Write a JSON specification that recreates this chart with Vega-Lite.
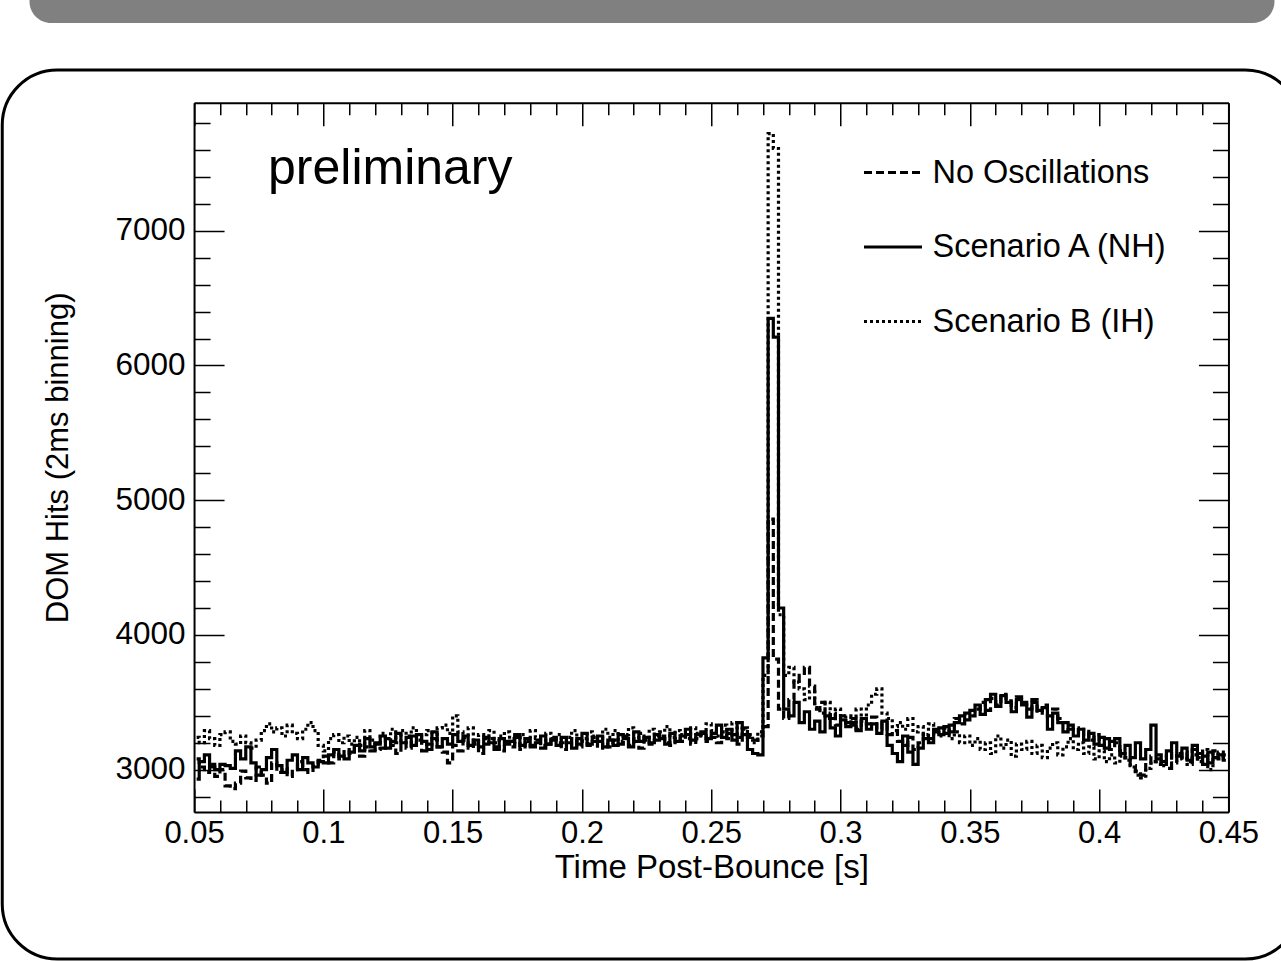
{
  "$schema": "https://vega.github.io/schema/vega-lite/v6.json",
  "padding": {"left": 0, "top": -20, "right": -20, "bottom": 1},
  "background": "white",
  "config": {"font": "Liberation Sans", "axis": {"grid": false}},
  "datasets": {
    "hits": [
      {"t":0.051,"n":3080,"a":2930,"b":3240},
      {"t":0.053,"n":3020,"a":3060,"b":3200},
      {"t":0.055,"n":2980,"a":3110,"b":3290},
      {"t":0.057,"n":3040,"a":3020,"b":3230},
      {"t":0.059,"n":2950,"a":3000,"b":3180},
      {"t":0.061,"n":3000,"a":3040,"b":3260},
      {"t":0.063,"n":2880,"a":3030,"b":3280},
      {"t":0.065,"n":2860,"a":3010,"b":3210},
      {"t":0.067,"n":2900,"a":3140,"b":3190},
      {"t":0.069,"n":2990,"a":3080,"b":3250},
      {"t":0.071,"n":2940,"a":3170,"b":3200},
      {"t":0.073,"n":2920,"a":3050,"b":3160},
      {"t":0.075,"n":3020,"a":2960,"b":3220},
      {"t":0.077,"n":2960,"a":3000,"b":3290},
      {"t":0.079,"n":2900,"a":3090,"b":3340},
      {"t":0.081,"n":3050,"a":3150,"b":3280},
      {"t":0.083,"n":2980,"a":3030,"b":3310},
      {"t":0.085,"n":3010,"a":2980,"b":3250},
      {"t":0.087,"n":2950,"a":3070,"b":3330},
      {"t":0.089,"n":3000,"a":3110,"b":3270},
      {"t":0.091,"n":3060,"a":3000,"b":3230},
      {"t":0.093,"n":3000,"a":3090,"b":3300},
      {"t":0.095,"n":2980,"a":3050,"b":3350},
      {"t":0.097,"n":3040,"a":3020,"b":3290},
      {"t":0.099,"n":3070,"a":3060,"b":3180},
      {"t":0.101,"n":3100,"a":3050,"b":3140},
      {"t":0.103,"n":3050,"a":3110,"b":3230},
      {"t":0.105,"n":3130,"a":3150,"b":3260},
      {"t":0.107,"n":3080,"a":3100,"b":3200},
      {"t":0.109,"n":3150,"a":3080,"b":3250},
      {"t":0.111,"n":3120,"a":3130,"b":3190},
      {"t":0.113,"n":3190,"a":3180,"b":3240},
      {"t":0.115,"n":3100,"a":3140,"b":3180},
      {"t":0.117,"n":3170,"a":3230,"b":3290},
      {"t":0.119,"n":3140,"a":3170,"b":3220},
      {"t":0.121,"n":3200,"a":3190,"b":3150},
      {"t":0.123,"n":3160,"a":3250,"b":3270},
      {"t":0.125,"n":3230,"a":3160,"b":3230},
      {"t":0.127,"n":3180,"a":3210,"b":3300},
      {"t":0.129,"n":3120,"a":3270,"b":3200},
      {"t":0.131,"n":3200,"a":3200,"b":3290},
      {"t":0.133,"n":3160,"a":3240,"b":3250},
      {"t":0.135,"n":3250,"a":3180,"b":3310},
      {"t":0.137,"n":3220,"a":3260,"b":3200},
      {"t":0.139,"n":3140,"a":3210,"b":3260},
      {"t":0.141,"n":3190,"a":3150,"b":3290},
      {"t":0.143,"n":3230,"a":3280,"b":3220},
      {"t":0.145,"n":3170,"a":3170,"b":3310},
      {"t":0.147,"n":3130,"a":3230,"b":3330},
      {"t":0.149,"n":3050,"a":3190,"b":3270},
      {"t":0.151,"n":3180,"a":3260,"b":3400},
      {"t":0.153,"n":3140,"a":3210,"b":3280},
      {"t":0.155,"n":3220,"a":3250,"b":3240},
      {"t":0.157,"n":3160,"a":3180,"b":3310},
      {"t":0.159,"n":3200,"a":3220,"b":3190},
      {"t":0.161,"n":3120,"a":3170,"b":3260},
      {"t":0.163,"n":3190,"a":3240,"b":3230},
      {"t":0.165,"n":3230,"a":3200,"b":3290},
      {"t":0.167,"n":3170,"a":3150,"b":3200},
      {"t":0.169,"n":3140,"a":3230,"b":3250},
      {"t":0.171,"n":3210,"a":3190,"b":3280},
      {"t":0.173,"n":3170,"a":3210,"b":3230},
      {"t":0.175,"n":3240,"a":3260,"b":3190},
      {"t":0.177,"n":3150,"a":3180,"b":3260},
      {"t":0.179,"n":3200,"a":3230,"b":3210},
      {"t":0.181,"n":3180,"a":3170,"b":3290},
      {"t":0.183,"n":3220,"a":3200,"b":3240},
      {"t":0.185,"n":3160,"a":3250,"b":3180},
      {"t":0.187,"n":3190,"a":3190,"b":3270},
      {"t":0.189,"n":3240,"a":3220,"b":3230},
      {"t":0.191,"n":3200,"a":3180,"b":3260},
      {"t":0.193,"n":3150,"a":3240,"b":3200},
      {"t":0.195,"n":3190,"a":3200,"b":3240},
      {"t":0.197,"n":3230,"a":3160,"b":3290},
      {"t":0.199,"n":3170,"a":3230,"b":3190},
      {"t":0.201,"n":3210,"a":3270,"b":3230},
      {"t":0.203,"n":3180,"a":3190,"b":3280},
      {"t":0.205,"n":3240,"a":3210,"b":3250},
      {"t":0.207,"n":3160,"a":3250,"b":3210},
      {"t":0.209,"n":3200,"a":3170,"b":3300},
      {"t":0.211,"n":3170,"a":3220,"b":3240},
      {"t":0.213,"n":3220,"a":3180,"b":3290},
      {"t":0.215,"n":3190,"a":3260,"b":3210},
      {"t":0.217,"n":3250,"a":3230,"b":3260},
      {"t":0.219,"n":3180,"a":3170,"b":3310},
      {"t":0.221,"n":3210,"a":3280,"b":3230},
      {"t":0.223,"n":3160,"a":3210,"b":3270},
      {"t":0.225,"n":3230,"a":3240,"b":3220},
      {"t":0.227,"n":3190,"a":3200,"b":3300},
      {"t":0.229,"n":3220,"a":3260,"b":3250},
      {"t":0.231,"n":3250,"a":3230,"b":3280},
      {"t":0.233,"n":3200,"a":3190,"b":3320},
      {"t":0.235,"n":3180,"a":3270,"b":3240},
      {"t":0.237,"n":3240,"a":3210,"b":3290},
      {"t":0.239,"n":3210,"a":3250,"b":3260},
      {"t":0.241,"n":3260,"a":3300,"b":3230},
      {"t":0.243,"n":3190,"a":3220,"b":3310},
      {"t":0.245,"n":3230,"a":3260,"b":3270},
      {"t":0.247,"n":3270,"a":3280,"b":3250},
      {"t":0.249,"n":3210,"a":3230,"b":3340},
      {"t":0.251,"n":3240,"a":3270,"b":3290},
      {"t":0.253,"n":3200,"a":3330,"b":3250},
      {"t":0.255,"n":3280,"a":3240,"b":3330},
      {"t":0.257,"n":3230,"a":3300,"b":3270},
      {"t":0.259,"n":3260,"a":3220,"b":3350},
      {"t":0.261,"n":3190,"a":3350,"b":3240},
      {"t":0.263,"n":3310,"a":3260,"b":3300},
      {"t":0.265,"n":3240,"a":3150,"b":3260},
      {"t":0.267,"n":3220,"a":3120,"b":3200},
      {"t":0.269,"n":3250,"a":3110,"b":3280},
      {"t":0.271,"n":3320,"a":3830,"b":3700},
      {"t":0.273,"n":4860,"a":6350,"b":7720},
      {"t":0.275,"n":3820,"a":6210,"b":7610},
      {"t":0.277,"n":3450,"a":4200,"b":4150},
      {"t":0.279,"n":3380,"a":3450,"b":3700},
      {"t":0.281,"n":3520,"a":3400,"b":3760},
      {"t":0.283,"n":3650,"a":3500,"b":3650},
      {"t":0.285,"n":3700,"a":3350,"b":3600},
      {"t":0.287,"n":3760,"a":3430,"b":3520},
      {"t":0.289,"n":3620,"a":3300,"b":3580},
      {"t":0.291,"n":3450,"a":3360,"b":3460},
      {"t":0.293,"n":3500,"a":3280,"b":3420},
      {"t":0.295,"n":3380,"a":3400,"b":3500},
      {"t":0.297,"n":3420,"a":3310,"b":3380},
      {"t":0.299,"n":3330,"a":3250,"b":3450},
      {"t":0.301,"n":3400,"a":3370,"b":3350},
      {"t":0.303,"n":3350,"a":3320,"b":3400},
      {"t":0.305,"n":3380,"a":3350,"b":3330},
      {"t":0.307,"n":3300,"a":3290,"b":3450},
      {"t":0.309,"n":3360,"a":3380,"b":3380},
      {"t":0.311,"n":3340,"a":3300,"b":3480},
      {"t":0.313,"n":3390,"a":3340,"b":3560},
      {"t":0.315,"n":3300,"a":3270,"b":3600},
      {"t":0.317,"n":3350,"a":3360,"b":3420},
      {"t":0.319,"n":3260,"a":3180,"b":3380},
      {"t":0.321,"n":3290,"a":3120,"b":3320},
      {"t":0.323,"n":3210,"a":3060,"b":3350},
      {"t":0.325,"n":3180,"a":3250,"b":3300},
      {"t":0.327,"n":3240,"a":3130,"b":3380},
      {"t":0.329,"n":3150,"a":3040,"b":3280},
      {"t":0.331,"n":3200,"a":3160,"b":3320},
      {"t":0.333,"n":3260,"a":3230,"b":3260},
      {"t":0.335,"n":3230,"a":3200,"b":3340},
      {"t":0.337,"n":3280,"a":3300,"b":3290},
      {"t":0.339,"n":3310,"a":3260,"b":3250},
      {"t":0.341,"n":3270,"a":3320,"b":3310},
      {"t":0.343,"n":3330,"a":3280,"b":3230},
      {"t":0.345,"n":3380,"a":3350,"b":3280},
      {"t":0.347,"n":3340,"a":3400,"b":3200},
      {"t":0.349,"n":3420,"a":3370,"b":3250},
      {"t":0.351,"n":3400,"a":3440,"b":3180},
      {"t":0.353,"n":3450,"a":3480,"b":3230},
      {"t":0.355,"n":3500,"a":3410,"b":3150},
      {"t":0.357,"n":3440,"a":3520,"b":3200},
      {"t":0.359,"n":3530,"a":3560,"b":3120},
      {"t":0.361,"n":3480,"a":3470,"b":3250},
      {"t":0.363,"n":3560,"a":3550,"b":3160},
      {"t":0.365,"n":3510,"a":3500,"b":3220},
      {"t":0.367,"n":3460,"a":3430,"b":3100},
      {"t":0.369,"n":3540,"a":3520,"b":3190},
      {"t":0.371,"n":3500,"a":3480,"b":3150},
      {"t":0.373,"n":3450,"a":3390,"b":3210},
      {"t":0.375,"n":3520,"a":3500,"b":3120},
      {"t":0.377,"n":3420,"a":3440,"b":3180},
      {"t":0.379,"n":3480,"a":3460,"b":3090},
      {"t":0.381,"n":3400,"a":3300,"b":3160},
      {"t":0.383,"n":3450,"a":3420,"b":3200},
      {"t":0.385,"n":3380,"a":3350,"b":3110},
      {"t":0.387,"n":3350,"a":3280,"b":3170},
      {"t":0.389,"n":3300,"a":3330,"b":3230},
      {"t":0.391,"n":3310,"a":3250,"b":3150},
      {"t":0.393,"n":3260,"a":3300,"b":3200},
      {"t":0.395,"n":3300,"a":3220,"b":3120},
      {"t":0.397,"n":3220,"a":3270,"b":3170},
      {"t":0.399,"n":3260,"a":3190,"b":3080},
      {"t":0.401,"n":3180,"a":3240,"b":3140},
      {"t":0.403,"n":3230,"a":3160,"b":3060},
      {"t":0.405,"n":3150,"a":3210,"b":3110},
      {"t":0.407,"n":3200,"a":3230,"b":3050},
      {"t":0.409,"n":3140,"a":3120,"b":3100},
      {"t":0.411,"n":3090,"a":3180,"b":3070},
      {"t":0.413,"n":3030,"a":3090,"b":3020},
      {"t":0.415,"n":2990,"a":3200,"b":2960},
      {"t":0.417,"n":2960,"a":3080,"b":2940},
      {"t":0.419,"n":3050,"a":3150,"b":3010},
      {"t":0.421,"n":3100,"a":3330,"b":3060},
      {"t":0.423,"n":3040,"a":3110,"b":3080},
      {"t":0.425,"n":3080,"a":3060,"b":3030},
      {"t":0.427,"n":3010,"a":3140,"b":3100},
      {"t":0.429,"n":3120,"a":3200,"b":3050},
      {"t":0.431,"n":3070,"a":3100,"b":3120},
      {"t":0.433,"n":3130,"a":3160,"b":3080},
      {"t":0.435,"n":3060,"a":3070,"b":3040},
      {"t":0.437,"n":3150,"a":3180,"b":3110},
      {"t":0.439,"n":3090,"a":3120,"b":3060},
      {"t":0.441,"n":3100,"a":3040,"b":3150},
      {"t":0.443,"n":3050,"a":3130,"b":3000},
      {"t":0.445,"n":3140,"a":3090,"b":3090},
      {"t":0.447,"n":3080,"a":3110,"b":3130},
      {"t":0.449,"n":3110,"a":3070,"b":3080}
    ]
  },
  "spacing": 45,
  "center": true,
  "vconcat": [
    {
      "width": 1245,
      "height": 43,
      "view": {"fill": "#808080", "stroke": null, "strokeWidth": 0, "cornerRadius": 28},
      "data": {"values": [{}]},
      "mark": {"type": "point", "opacity": 0}
    },
    {
      "width": 1298,
      "height": 889,
      "view": {"stroke": "black", "strokeWidth": 3, "cornerRadius": 55, "fill": null},
      "data": {"name": "hits"},
      "transform": [{"fold": ["n", "a", "b"], "as": ["s", "v"]}],
      "resolve": {"axis": {"x": "independent", "y": "independent"}},
      "layer": [
        {
          "mark": {"type": "line", "interpolate": "step", "strokeWidth": 3.2, "color": "black", "strokeCap": "butt"},
          "encoding": {
            "x": {
              "field": "t", "type": "quantitative",
              "scale": {"domain": [0.05, 0.45], "range": [191.8, 1226.2], "nice": false, "zero": false},
              "axis": {
                "orient": "bottom", "offset": -147, "domain": false, "ticks": false,
                "values": [0.05, 0.1, 0.15, 0.2, 0.25, 0.3, 0.35, 0.4, 0.45],
                "format": "~g", "labelFontSize": 31, "labelPadding": 6, "labelFlush": false,
                "labelOverlap": false, "labelColor": "black",
                "title": "Time Post-Bounce [s]", "titleFontSize": 33, "titleFontWeight": "normal",
                "titleColor": "black", "titlePadding": 3
              }
            },
            "y": {
              "field": "v", "type": "quantitative",
              "scale": {"domain": [2686, 7950], "range": [742, 32.7], "nice": false, "zero": false},
              "axis": {
                "orient": "left", "offset": -191.8, "domain": false, "ticks": false,
                "values": [3000, 4000, 5000, 6000, 7000], "format": "d",
                "labelFontSize": 31.5, "labelPadding": 9, "labelFlush": false, "labelOverlap": false,
                "labelColor": "black",
                "title": "DOM Hits (2ms binning)", "titleFontSize": 31, "titleFontWeight": "normal",
                "titleColor": "black", "titlePadding": 40
              }
            },
            "strokeDash": {
              "field": "s", "type": "nominal",
              "scale": {"domain": ["n", "a", "b"], "range": [[8, 4], [1, 0], [3, 3]]},
              "legend": {
                "title": null, "orient": "none", "legendX": 860.5, "legendY": 162,
                "symbolType": "stroke", "symbolSize": 3364, "symbolStrokeWidth": 3,
                "symbolStrokeColor": "black", "labelFontSize": 32.5, "labelColor": "black",
                "labelOffset": 9, "labelLimit": 400, "rowPadding": 27.5, "padding": 0,
                "labelExpr": "datum.label == 'n' ? 'No Oscillations' : datum.label == 'a' ? 'Scenario A (NH)' : 'Scenario B (IH)'"
              }
            }
          }
        },
        {
          "mark": {"type": "line", "strokeOpacity": 0},
          "encoding": {
            "x": {
              "field": "t", "type": "quantitative",
              "axis": {
                "orient": "top", "offset": -742, "labels": false, "title": null,
                "domain": true, "domainColor": "black", "domainWidth": 2,
                "ticks": true, "tickColor": "black", "tickWidth": 1.5,
                "values": [0.05,0.06,0.07,0.08,0.09,0.1,0.11,0.12,0.13,0.14,0.15,0.16,0.17,0.18,0.19,0.2,0.21,0.22,0.23,0.24,0.25,0.26,0.27,0.28,0.29,0.3,0.31,0.32,0.33,0.34,0.35,0.36,0.37,0.38,0.39,0.4,0.41,0.42,0.43,0.44,0.45],
                "tickSize": {"condition": {"test": "abs(datum.value*20 - round(datum.value*20)) < 0.001", "value": 23}, "value": 12}
              }
            },
            "y": {
              "field": "v", "type": "quantitative",
              "axis": {
                "orient": "right", "offset": -1106.2, "labels": false, "title": null,
                "domain": true, "domainColor": "black", "domainWidth": 2,
                "ticks": true, "tickColor": "black", "tickWidth": 1.5,
                "values": [2800,3000,3200,3400,3600,3800,4000,4200,4400,4600,4800,5000,5200,5400,5600,5800,6000,6200,6400,6600,6800,7000,7200,7400,7600,7800],
                "tickSize": {"condition": {"test": "datum.value % 1000 == 0", "value": 30}, "value": 16}
              }
            }
          }
        },
        {
          "mark": {"type": "line", "strokeOpacity": 0},
          "encoding": {
            "x": {
              "field": "t", "type": "quantitative",
              "axis": {
                "orient": "bottom", "offset": -856.3, "labels": false, "title": null,
                "domain": true, "domainColor": "black", "domainWidth": 2,
                "ticks": true, "tickColor": "black", "tickWidth": 1.5,
                "values": [0.05,0.06,0.07,0.08,0.09,0.1,0.11,0.12,0.13,0.14,0.15,0.16,0.17,0.18,0.19,0.2,0.21,0.22,0.23,0.24,0.25,0.26,0.27,0.28,0.29,0.3,0.31,0.32,0.33,0.34,0.35,0.36,0.37,0.38,0.39,0.4,0.41,0.42,0.43,0.44,0.45],
                "tickSize": {"condition": {"test": "abs(datum.value*20 - round(datum.value*20)) < 0.001", "value": 23}, "value": 12}
              }
            },
            "y": {
              "field": "v", "type": "quantitative",
              "axis": {
                "orient": "left", "offset": -1226.2, "labels": false, "title": null,
                "domain": true, "domainColor": "black", "domainWidth": 2,
                "ticks": true, "tickColor": "black", "tickWidth": 1.5,
                "values": [2800,3000,3200,3400,3600,3800,4000,4200,4400,4600,4800,5000,5200,5400,5600,5800,6000,6200,6400,6600,6800,7000,7200,7400,7600,7800],
                "tickSize": {"condition": {"test": "datum.value % 1000 == 0", "value": 30}, "value": 16}
              }
            }
          }
        },
        {
          "data": {"values": [{}]},
          "mark": {"type": "text", "text": "preliminary", "fontSize": 50, "align": "left", "baseline": "alphabetic", "color": "black"},
          "encoding": {
            "x": {"datum": 0.0786, "type": "quantitative", "axis": null},
            "y": {"datum": 7349, "type": "quantitative", "axis": null}
          }
        }
      ]
    }
  ]
}
